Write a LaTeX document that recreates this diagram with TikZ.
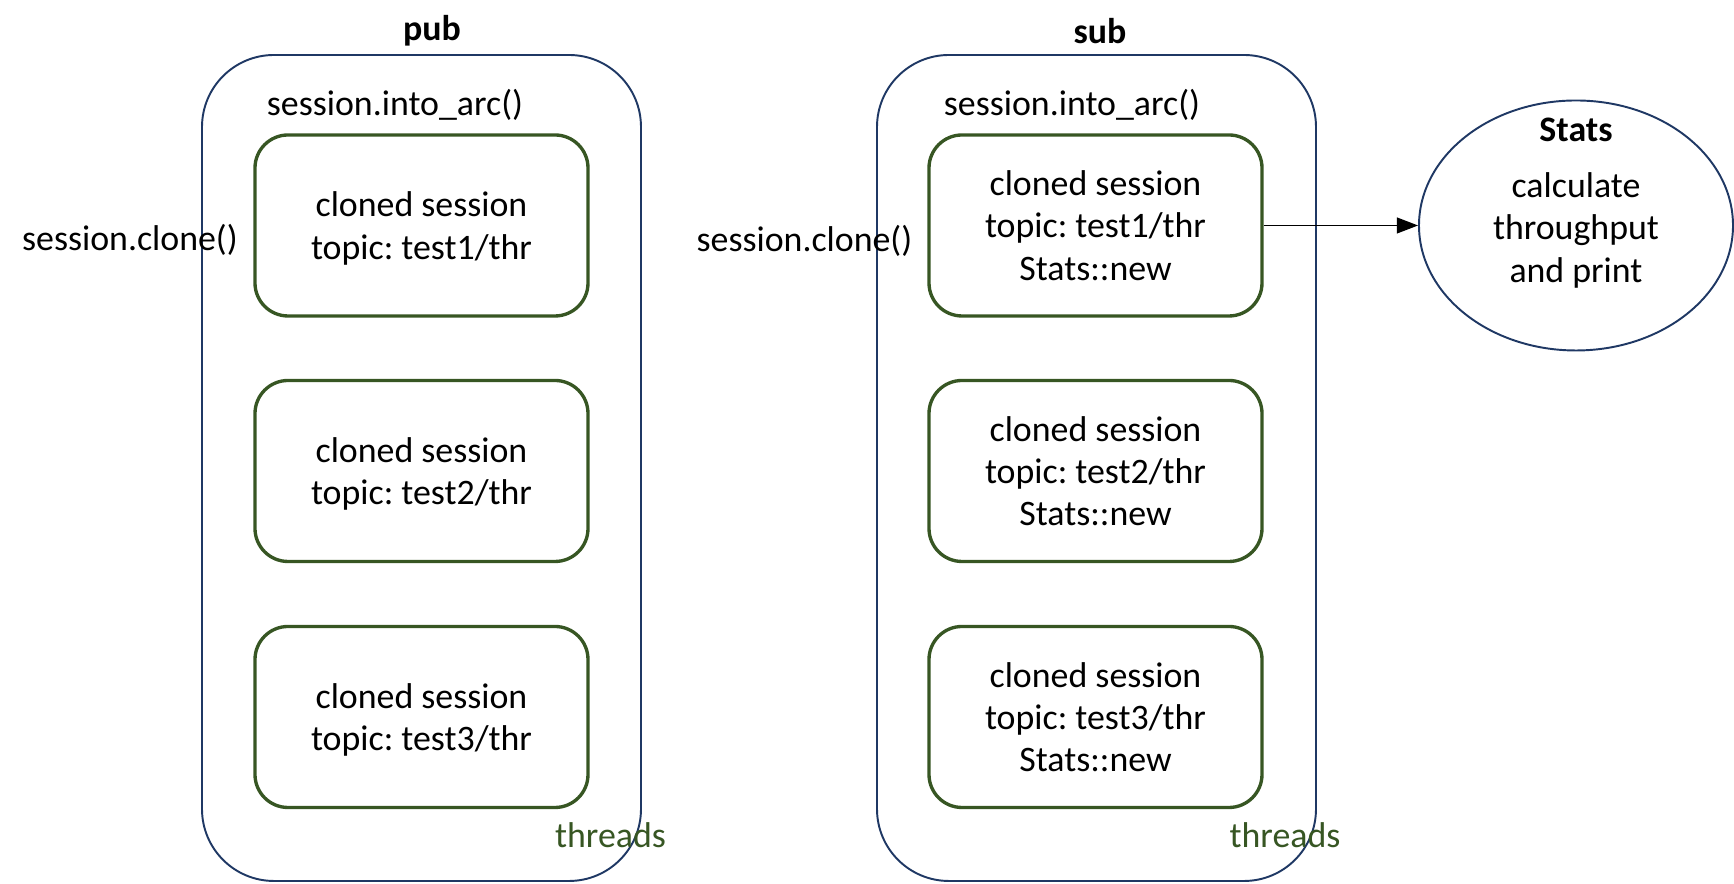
\documentclass[tikz,border=0pt]{standalone}
\usepackage{fontspec}
\setmainfont{Carlito}
\usetikzlibrary{shapes.geometric,arrows.meta}
\definecolor{navy}{HTML}{1F3864}
\definecolor{leaf}{HTML}{375623}
\frenchspacing

\begin{document}
\begin{tikzpicture}[
		every node/.style={font=\fontsize{10.2}{12}\selectfont},
		title/.style={font=\fontsize{10.2}{12}\selectfont\bfseries},
		outer/.style={draw=navy, line width=0.55pt, rounded corners=0.72cm, minimum width=4.39cm, minimum height=8.26cm},
		thread/.style={draw=leaf, line width=0.95pt, rounded corners=0.33cm, minimum width=3.33cm, minimum height=1.81cm, align=center, text depth=0pt},
	]
		\useasboundingbox (0,0) rectangle (17.34,8.84);

		\node[outer] (pub) at (4.215,4.16) {}; % Process boxes.
		\node[outer] (sub) at (10.965,4.16) {};
		\node[title] (pubTitle) at (4.32,8.53) {pub};
		\node[title] (subTitle) at (11.00,8.53) {sub};
		\node (pubArc) at (3.95,7.79) {session.into\_arc()};
		\node (subArc) at (10.72,7.79) {session.into\_arc()};
		\node (pubClone) at (1.30,6.44) {session.clone()};
		\node (subClone) at (8.045,6.43) {session.clone()};

		\node[thread] (p1) at (4.215,6.585) {cloned session\\topic: test1/thr}; % Threads of pub.
		\node[thread] (p2) at (4.215,4.13) {cloned session\\topic: test2/thr};
		\node[thread] (p3) at (4.215,1.67) {cloned session\\topic: test3/thr};

		\node[thread] (s1) at (10.955,6.585) {cloned session\\topic: test1/thr\\Stats::new}; % Threads of sub.
		\node[thread] (s2) at (10.955,4.13) {cloned session\\topic: test2/thr\\Stats::new};
		\node[thread] (s3) at (10.955,1.67) {cloned session\\topic: test3/thr\\Stats::new};

		\node[text=leaf] (pubThreads) at (6.105,0.49) {threads};
		\node[text=leaf] (subThreads) at (12.85,0.49) {threads};

		\node[ellipse, draw=navy, line width=0.55pt, minimum width=3.14cm, minimum height=2.5cm] (stats) at (15.76,6.585) {};
		\node[align=center] (statsText) at (15.76,6.81) {\textbf{Stats}\\[0.14cm]calculate\\throughput\\and print};

		\draw[thin, -{Triangle[length=6pt,width=4.5pt]}] (s1.east) -- (stats.west);
	\end{tikzpicture}
\end{document}
